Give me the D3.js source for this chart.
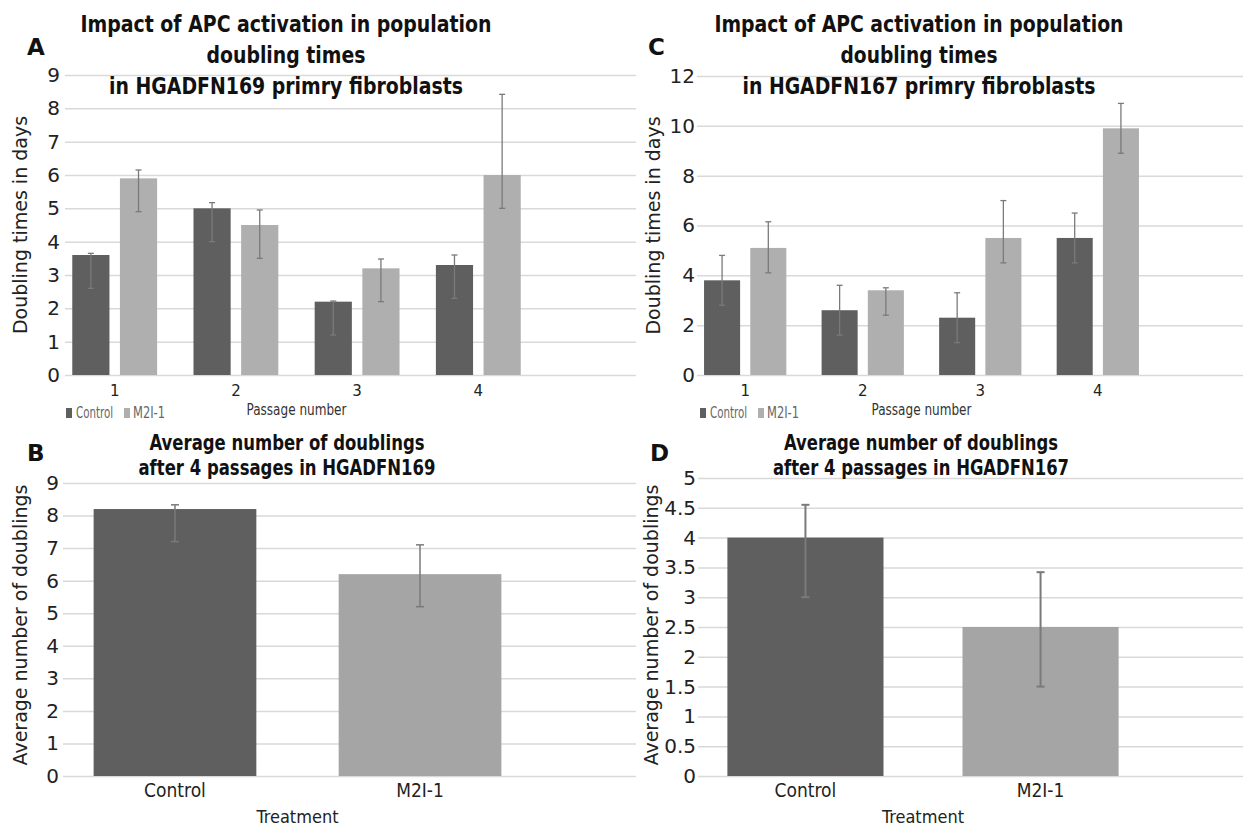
<!DOCTYPE html>
<html>
<head>
<meta charset="utf-8">
<style>
body { margin: 0; background: #fff; }
.grid line { stroke: #d9d9d9; stroke-width: 1.5px; }
.grid path, .xaxis path { display: none; }
.grid text { font-family: "DejaVu Sans", sans-serif; font-size: 20px; fill: #222; }
.xaxis text { fill: #222; }
.err { stroke: #7a7a7a; fill: none; }
.title { font-family: "DejaVu Sans Condensed", "DejaVu Sans", sans-serif; font-weight: bold; fill: #111; text-anchor: middle; }
.plabel { font-family: "DejaVu Sans", sans-serif; font-weight: bold; font-size: 23px; fill: #111; }
.ytitle { font-family: "DejaVu Sans", sans-serif; font-size: 19px; fill: #222; text-anchor: middle; }
.legend text { font-family: "DejaVu Sans Condensed", sans-serif; font-size: 16px; fill: #666; }
</style>
</head>
<body>
<script src="https://d3js.org/d3.v7.min.js"></script>
<script type="text/javascript">

    // categories and series
    var passages = ["1", "2", "3", "4"];
    var series = ["Control", "M2I-1"];
    var treatments = ["Control", "M2I-1"];

    // A - doubling times HGADFN169
    var a169Control = [3.6, 5.0, 2.2, 3.3];
    var a169ControlPlus = [0.05, 0.17, 0.02, 0.3];
    var a169ControlMinus = [1, 1, 1, 1];
    var a169M2I = [5.9, 4.5, 3.2, 6.0];
    var a169M2IPlus = [0.25, 0.45, 0.28, 2.42];
    var a169M2IMinus = [1, 1, 1, 1];
    var a169Ticks = [0, 1, 2, 3, 4, 5, 6, 7, 8, 9];

    // C - doubling times HGADFN167
    var c167Control = [3.8, 2.6, 2.3, 5.5];
    var c167ControlPlus = [1, 1, 1, 1];
    var c167ControlMinus = [1, 1, 1, 1];
    var c167M2I = [5.1, 3.4, 5.5, 9.9];
    var c167M2IPlus = [1.05, 0.1, 1.5, 1.0];
    var c167M2IMinus = [1, 1, 1, 1];
    var c167Ticks = [0, 2, 4, 6, 8, 10, 12];

    // B - average doublings HGADFN169
    var b169Avg = [8.2, 6.2];
    var b169Plus = [0.13, 0.9];
    var b169Minus = [1, 1];
    var b169Ticks = [0, 1, 2, 3, 4, 5, 6, 7, 8, 9];

    // D - average doublings HGADFN167
    var d167Avg = [4.0, 2.5];
    var d167Plus = [0.55, 0.92];
    var d167Minus = [1, 1];
    var d167Ticks = [0, 0.5, 1, 1.5, 2, 2.5, 3, 3.5, 4, 4.5, 5];

    var colors = {"Control": "#5f5f5f", "M2I-1": "#afafaf"};

    var svg = d3.select("body").append("svg")
        .attr("width", 1243)
        .attr("height", 829);

    function yGrid(g, y, p) {
        g.append("g")
            .attr("class", "grid")
            .attr("transform", "translate(" + p.left + ",0)")
            .call(d3.axisLeft(y)
                .tickValues(p.ticks)
                .tickSize(-(p.gridRight - p.left))
                .tickPadding(p.tickPad)
                .tickFormat(d3.format("")))
            .attr("font-family", null)
            .attr("font-size", null);
    }

    function errorBar(g, x, top, bottom, cap, width) {
        g.append("line").attr("class", "err").attr("stroke-width", width)
            .attr("x1", x).attr("x2", x).attr("y1", top).attr("y2", bottom);
        g.append("line").attr("class", "err").attr("stroke-width", width)
            .attr("x1", x - cap / 2).attr("x2", x + cap / 2).attr("y1", top).attr("y2", top);
        g.append("line").attr("class", "err").attr("stroke-width", width)
            .attr("x1", x - cap / 2).attr("x2", x + cap / 2).attr("y1", bottom).attr("y2", bottom);
    }

    // one text per line, squeezed to the measured width
    function titleLines(g, lines, widths, cx, y0, lh, size) {
        lines.forEach(function(s, i) {
            g.append("text").attr("class", "title")
                .attr("font-size", size)
                .attr("x", cx).attr("y", y0 + i * lh)
                .attr("textLength", widths[i])
                .attr("lengthAdjust", "spacingAndGlyphs")
                .text(s);
        });
    }

    //grouped bars with passages on x
    function drawGrouped(p) {
        var g = svg.append("g");

        var x0 = d3.scaleBand().domain(passages)
            .range([p.left, p.right]).paddingInner(0.3).paddingOuter(0.06);
        var x1 = d3.scaleBand().domain(series)
            .range([0, x0.bandwidth()]).paddingInner(0.22);
        var y = d3.scaleLinear().domain([0, p.max]).range([p.bottom, p.top]);

        yGrid(g, y, p);

        var rows = [];
        passages.forEach(function(c, i) {
            series.forEach(function(s, j) {
                rows.push({cat: c, s: s, v: p.values[j][i], plus: p.plus[j][i], minus: p.minus[j][i]});
            });
        });

        g.selectAll("rect.bar").data(rows).enter().append("rect")
            .attr("class", "bar")
            .attr("x", function(d) { return x0(d.cat) + x1(d.s); })
            .attr("y", function(d) { return y(d.v); })
            .attr("width", x1.bandwidth())
            .attr("height", function(d) { return y(0) - y(d.v); })
            .attr("fill", function(d) { return colors[d.s]; });

        rows.forEach(function(d) {
            errorBar(g, x0(d.cat) + x1(d.s) + x1.bandwidth() / 2,
                y(d.v + d.plus), y(d.v - d.minus), 6, 1.3);
        });

        g.append("g")
            .attr("class", "xaxis")
            .attr("transform", "translate(0," + p.bottom + ")")
            .call(d3.axisBottom(x0).tickSize(0).tickPadding(10))
            .attr("font-family", "DejaVu Sans, sans-serif")
            .attr("font-size", 15);

        g.append("text")
            .attr("x", (p.left + p.right) / 2)
            .attr("y", p.bottom + 40)
            .attr("text-anchor", "middle")
            .style("font-family", "'DejaVu Sans Condensed', sans-serif")
            .style("font-size", "15px")
            .attr("textLength", 100)
            .attr("lengthAdjust", "spacingAndGlyphs")
            .style("fill", "#333")
            .text("Passage number");

        var lg = g.append("g").attr("class", "legend");
        var lx = p.legendX;
        lg.append("rect").attr("x", lx).attr("y", p.bottom + 33).attr("width", 6).attr("height", 10).attr("fill", colors["Control"]);
        lg.append("text").attr("x", lx + 10).attr("y", p.bottom + 43)
            .attr("textLength", 37).attr("lengthAdjust", "spacingAndGlyphs").text("Control");
        lg.append("rect").attr("x", lx + 58).attr("y", p.bottom + 33).attr("width", 6).attr("height", 10).attr("fill", colors["M2I-1"]);
        lg.append("text").attr("x", lx + 67).attr("y", p.bottom + 43)
            .attr("textLength", 32).attr("lengthAdjust", "spacingAndGlyphs").text("M2I-1");

        titleLines(g, p.title, p.titleW, p.titleX, 32, 31, 22.5);

        g.append("text").attr("class", "plabel").attr("x", p.labelX).attr("y", 55).text(p.label);

        g.append("text").attr("class", "ytitle")
            .attr("transform", "translate(" + p.yTitleX + "," + (p.top + p.bottom) / 2 + ") rotate(-90)")
            .attr("dy", "-0.1em")
            .text("Doubling times in days");
    }

    //two bars with treatment on x
    function drawSimple(p) {
        var g = svg.append("g");

        var x = d3.scaleBand().domain(treatments)
            .range([p.left, p.right]).paddingInner(0.336).paddingOuter(0.125);
        var y = d3.scaleLinear().domain([0, p.max]).range([p.bottom, p.top]);

        yGrid(g, y, p);

        var rows = treatments.map(function(t, i) {
            return {t: t, v: p.values[i], plus: p.plus[i], minus: p.minus[i]};
        });

        g.selectAll("rect.bar").data(rows).enter().append("rect")
            .attr("class", "bar")
            .attr("x", function(d) { return x(d.t); })
            .attr("y", function(d) { return y(d.v); })
            .attr("width", x.bandwidth())
            .attr("height", function(d) { return y(0) - y(d.v); })
            .attr("fill", function(d) { return d.t === "Control" ? "#5f5f5f" : "#a5a5a5"; });

        rows.forEach(function(d) {
            errorBar(g, x(d.t) + x.bandwidth() / 2, y(d.v + d.plus), y(d.v - d.minus), 8, p.errW);
        });

        g.append("g")
            .attr("class", "xaxis")
            .attr("transform", "translate(0," + p.bottom + ")")
            .call(d3.axisBottom(x).tickSize(0).tickPadding(8))
            .attr("font-family", "DejaVu Sans Condensed, sans-serif")
            .attr("font-size", 19);

        g.append("text")
            .attr("x", (p.left + p.right) / 2)
            .attr("y", p.bottom + 47)
            .attr("text-anchor", "middle")
            .style("font-family", "'DejaVu Sans Condensed', sans-serif")
            .style("font-size", "18.5px")
            .attr("textLength", 82)
            .attr("lengthAdjust", "spacingAndGlyphs")
            .style("fill", "#222")
            .text("Treatment");

        titleLines(g, p.title, p.titleW, p.titleX, 450, 25, 20.5);

        g.append("text").attr("class", "plabel").attr("x", p.labelX).attr("y", 461).text(p.label);

        g.append("text").attr("class", "ytitle")
            .attr("transform", "translate(" + p.yTitleX + "," + 625 + ") rotate(-90)")
            .attr("dy", "-0.1em")
            .text("Average number of doublings");
    }

    drawGrouped({
        label: "A", labelX: 27,
        title: ["Impact of APC activation in population", "doubling times", "in HGADFN169 primry fibroblasts"],
        titleW: [411, 159, 354],
        titleX: 286,
        values: [a169Control, a169M2I], plus: [a169ControlPlus, a169M2IPlus], minus: [a169ControlMinus, a169M2IMinus],
        ticks: a169Ticks, max: 9,
        left: 65, right: 528, gridRight: 636, top: 75, bottom: 375, tickPad: 5,
        legendX: 66, yTitleX: 29
    });

    drawGrouped({
        label: "C", labelX: 648,
        title: ["Impact of APC activation in population", "doubling times", "in HGADFN167 primry fibroblasts"],
        titleW: [409, 157, 353],
        titleX: 919,
        values: [c167Control, c167M2I], plus: [c167ControlPlus, c167M2IPlus], minus: [c167ControlMinus, c167M2IMinus],
        ticks: c167Ticks, max: 12,
        left: 697, right: 1146, gridRight: 1243, top: 76, bottom: 375, tickPad: 2,
        legendX: 700, yTitleX: 662
    });

    drawSimple({
        label: "B", labelX: 27,
        title: ["Average number of doublings", "after 4 passages in HGADFN169"],
        titleW: [275, 297],
        titleX: 287,
        values: b169Avg, plus: b169Plus, minus: b169Minus,
        ticks: b169Ticks, max: 9,
        left: 63, right: 532, gridRight: 636, top: 483, bottom: 776, tickPad: 4,
        yTitleX: 29, errW: 1.5
    });

    drawSimple({
        label: "D", labelX: 650,
        title: ["Average number of doublings", "after 4 passages in HGADFN167"],
        titleW: [274, 296],
        titleX: 921,
        values: d167Avg, plus: d167Plus, minus: d167Minus,
        ticks: d167Ticks, max: 5,
        left: 698, right: 1148, gridRight: 1243, top: 478, bottom: 776, tickPad: 2,
        yTitleX: 660, errW: 2
    });
</script>
</body>
</html>
